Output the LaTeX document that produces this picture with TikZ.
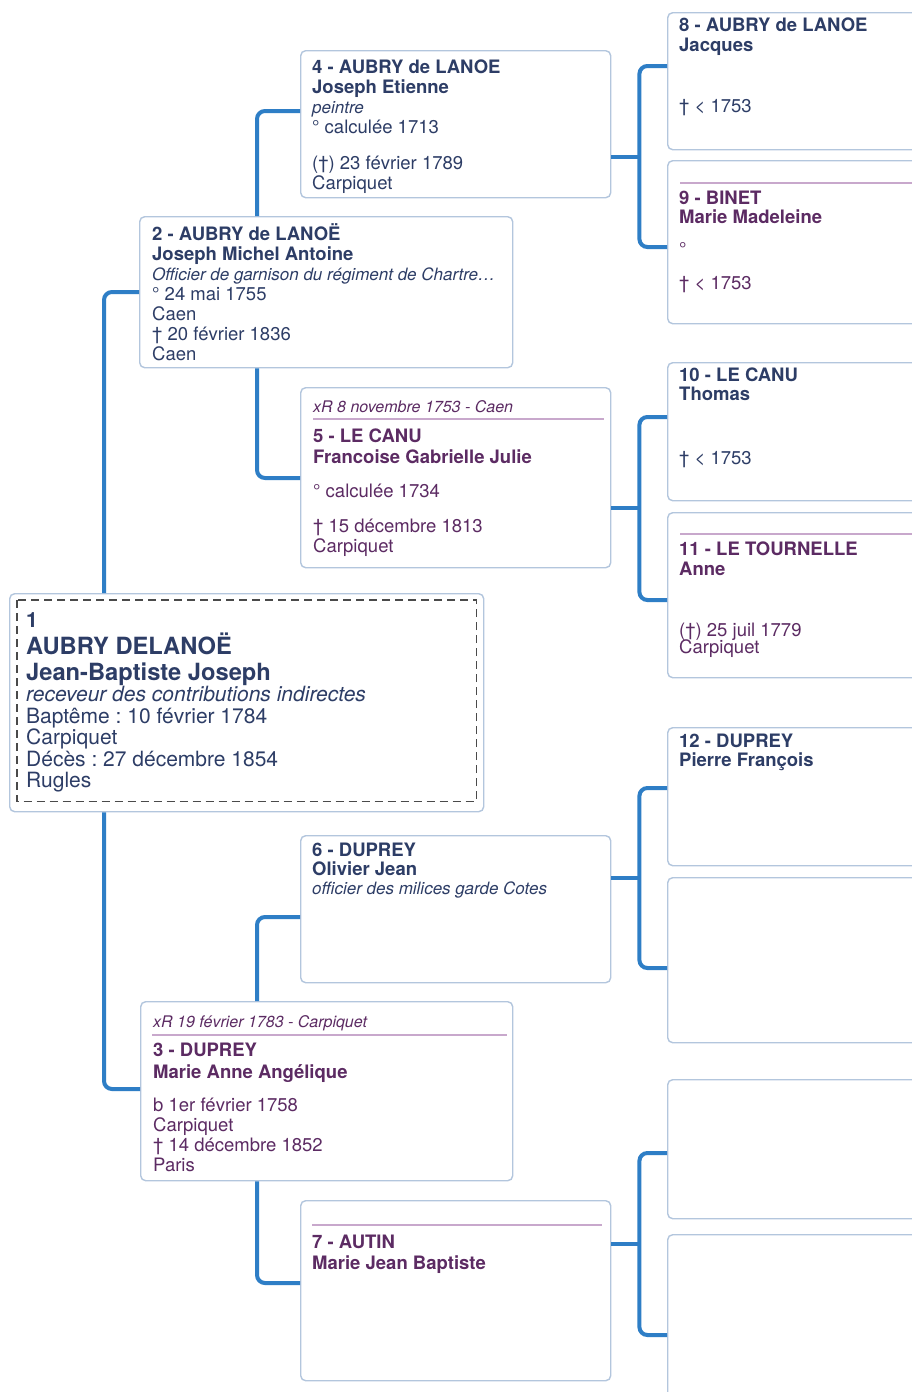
\documentclass[tikz,border=0pt]{standalone}
\usepackage{fontspec}
\setmainfont{TeX Gyre Heros}
\usetikzlibrary{positioning}
\frenchspacing

\definecolor{navy}{HTML}{2D3D66}
\definecolor{plum}{HTML}{5C2B63}
\definecolor{linkblue}{HTML}{2E7EC6}
\definecolor{boxline}{HTML}{B3C6DD}
\definecolor{wedcol}{HTML}{C8A8CC}
\definecolor{dashgray}{HTML}{4A4A4A}

\newcommand{\metier}[1]{{\fontsize{17}{20}\selectfont\itshape #1}}

\begin{document}
\begin{tikzpicture}[
    x=1pt, y=-1pt,
    box/.style={draw=boxline, line width=1.4pt, rounded corners=5pt, fill=white, inner sep=0pt, anchor=north west},
    wh/.style 2 args={minimum width=#1pt, minimum height=#2pt},
    link/.style={draw=linkblue, line width=4pt, rounded corners=8pt},
    txt/.style={inner sep=0pt, align=left, font={\lineskiplimit=-50pt\fontsize{18.5}{20}\selectfont}},
    him/.style={txt, text=navy},
    her/.style={txt, text=plum},
    wed/.style={inner sep=0pt, anchor=base west, text=plum, font={\fontsize{16}{18}\selectfont\itshape}},
    wedline/.style={draw=wedcol, line width=1.6pt},
    dashframe/.style={draw=dashgray, line width=1.8pt, dash pattern=on 8pt off 5pt},
]

\useasboundingbox (0,0) rectangle (912,1392);
\fill[white] (0,0) rectangle (912,1392);
\clip (0,0) rectangle (912,1392);

% Generation 1: de cujus
\node[box, wh={474}{218}] (p1) at (9,593) {};
\draw[dashframe] ([shift={(8,7)}]p1.north west) rectangle ([shift={(-8,-11)}]p1.south east);

% Generation 2: parents
\node[box, wh={373}{151}] (p2) at (139,216) {};
\node[box, wh={372}{179}] (p3) at (140,1001) {};

% Generation 3: grand-parents
\node[box, wh={310}{147}] (p4) at (300,50) {};
\node[box, wh={310}{180}] (p5) at (300,387) {};
\node[box, wh={310}{147}] (p6) at (300,835) {};
\node[box, wh={310}{180}] (p7) at (300,1200) {};

% Generation 4: arriere-grand-parents
\node[box, wh={270}{137}] (p8) at (667,12) {};
\node[box, wh={270}{163}] (p9) at (667,160) {};
\node[box, wh={270}{138}] (p10) at (667,362) {};
\node[box, wh={270}{165}] (p11) at (667,512) {};
\node[box, wh={270}{138}] (p12) at (667,727) {};
\node[box, wh={270}{165}] (p13) at (667,877) {};
\node[box, wh={270}{139}] (p14) at (667,1079) {};
\node[box, wh={270}{170}] (p15) at (667,1234) {};

% Mariages
\node[wed] (w5) at ([shift={(13,25.5)}]p5.north west) {xR 8 novembre 1753 - Caen};
\node[wed] (w3) at ([shift={(13,26.5)}]p3.north west) {xR 19 février 1783 - Carpiquet};
\draw[wedline] ([shift={(13,32)}]p5.north west) -- ([shift={(-7,32)}]p5.north east);
\draw[wedline] ([shift={(12,34)}]p3.north west) -- ([shift={(-6,34)}]p3.north east);
\draw[wedline] ([shift={(12,25)}]p7.north west) -- ([shift={(-9,25)}]p7.north east);
\draw[wedline] ([shift={(13,23)}]p9.north west) -- ([shift={(0,23)}]p9.north east);
\draw[wedline] ([shift={(13,22)}]p11.north west) -- ([shift={(0,22)}]p11.north east);

% Textes
\node[him, below right=19pt and 17pt of p1.north west, font={\lineskiplimit=-50pt\fontsize{21}{21.5}\selectfont}] (t1)
  {{\bfseries 1}\\[5.5pt]
   {\bfseries\fontsize{23.7}{26}\selectfont AUBRY DELANOË}\\[4.5pt]
   {\bfseries\fontsize{23.7}{26}\selectfont Jean-Baptiste Joseph}\\[-0.5pt]
   {\itshape receveur des contributions indirectes}\\[0.5pt]
   Baptême : 10 février 1784\\ Carpiquet\\ Décès : 27 décembre 1854\\ Rugles};
\node[him, below right=7pt and 13pt of p2.north west] (t2)
  {{\bfseries 2 - AUBRY de LANOË}\\ {\bfseries Joseph Michel Antoine}\\
   \metier{Officier de garnison du régiment de Chartre…}\\
   ° 24 mai 1755\\ Caen\\ † 20 février 1836\\ Caen};
\node[her, below right=42pt and 13pt of p3.north west] (t3)
  {{\bfseries 3 - DUPREY}\\[2pt] {\bfseries Marie Anne Angélique}\\[13pt]
   b 1er février 1758\\ Carpiquet\\ † 14 décembre 1852\\ Paris};
\node[him, below right=10pt and 12pt of p4.north west] (t4)
  {{\bfseries 4 - AUBRY de LANOE}\\ {\bfseries Joseph Etienne}\\ \metier{peintre}\\
   ° calculée 1713\\[16pt] (†) 23 février 1789\\ Carpiquet};
\node[her, below right=42pt and 13pt of p5.north west] (t5)
  {{\bfseries 5 - LE CANU}\\[1pt] {\bfseries Francoise Gabrielle Julie}\\[14pt]
   ° calculée 1734\\[15pt] † 15 décembre 1813\\ Carpiquet};
\node[him, below right=8pt and 12pt of p6.north west] (t6)
  {{\bfseries 6 - DUPREY}\\[-1pt] {\bfseries Olivier Jean}\\[-1pt] \metier{officier des milices garde Cotes}};
\node[her, below right=35pt and 12pt of p7.north west] (t7)
  {{\bfseries 7 - AUTIN}\\[1pt] {\bfseries Marie Jean Baptiste}};
\node[him, below right=6pt and 12pt of p8.north west] (t8)
  {{\bfseries 8 - AUBRY de LANOE}\\ {\bfseries Jacques}\\[41pt] † < 1753};
\node[her, below right=31pt and 12pt of p9.north west] (t9)
  {{\bfseries 9 - BINET}\\[-1pt] {\bfseries Marie Madeleine}\\[12pt] °\\[14pt] † < 1753};
\node[him, below right=6pt and 12pt of p10.north west] (t10)
  {{\bfseries 10 - LE CANU}\\[-1pt] {\bfseries Thomas}\\[44pt] † < 1753};
\node[her, below right=30pt and 12pt of p11.north west] (t11)
  {{\bfseries 11 - LE TOURNELLE}\\ {\bfseries Anne}\\[41pt] (†) 25 juil 1779\\[-3pt] Carpiquet};
\node[him, below right=7pt and 12pt of p12.north west] (t12)
  {{\bfseries 12 - DUPREY}\\[-1pt] {\bfseries Pierre François}};

% Liens parents
\draw[link] ([shift={(95,0)}]p1.north west) |- ([shift={(0,76)}]p2.north west);
\draw[link] ([shift={(95,0)}]p1.south west) |- ([shift={(0,88)}]p3.north west);
\draw[link] ([shift={(118,0)}]p2.north west) |- ([shift={(0,61)}]p4.north west);
\draw[link] ([shift={(118,0)}]p2.south west) |- ([shift={(0,91)}]p5.north west);
\draw[link] ([shift={(117,0)}]p3.north west) |- ([shift={(0,82)}]p6.north west);
\draw[link] ([shift={(117,0)}]p3.south west) |- ([shift={(0,83)}]p7.north west);

% Fourches vers la generation 4
\draw[link] ([shift={(0,107)}]p4.north east) -- ++(28,0) coordinate (j4);
\draw[link] ([shift={(0,54)}]p8.north west) -| (j4) |- ([shift={(0,87)}]p9.north west);
\draw[link] ([shift={(0,121)}]p5.north east) -- ++(28,0) coordinate (j5);
\draw[link] ([shift={(0,55)}]p10.north west) -| (j5) |- ([shift={(0,88)}]p11.north west);
\draw[link] ([shift={(0,43)}]p6.north east) -- ++(28,0) coordinate (j6);
\draw[link] ([shift={(0,61)}]p12.north west) -| (j6) |- ([shift={(0,91)}]p13.north west);
\draw[link] ([shift={(0,44)}]p7.north east) -- ++(28,0) coordinate (j7);
\draw[link] ([shift={(0,74)}]p14.north west) -| (j7) |- ([shift={(0,101)}]p15.north west);

\end{tikzpicture}
\end{document}
